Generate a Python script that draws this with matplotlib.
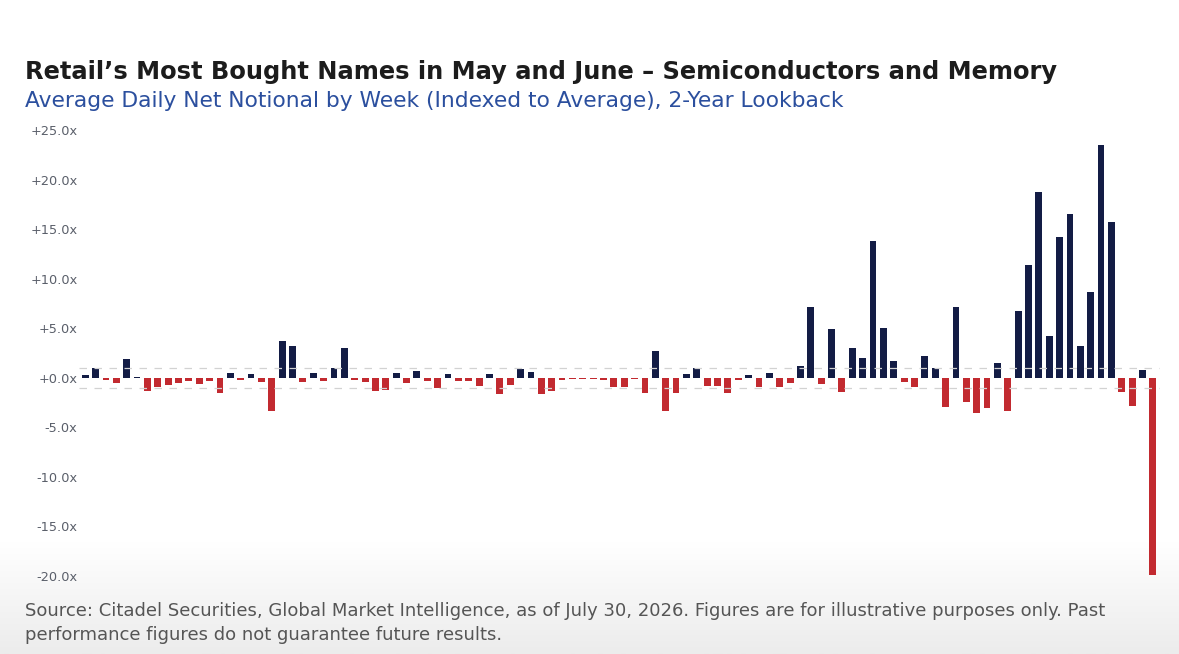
import matplotlib
matplotlib.use("Agg")
import matplotlib.pyplot as plt
from matplotlib.colors import LinearSegmentedColormap
import numpy as np

plt.rcParams['font.family'] = ['DejaVu Sans']

# weekly index values, 2-year lookback (104 weeks)
values = [
    0.3, 1.0, -0.2, -0.5, 1.9, 0.1, -1.3, -0.9, -0.7, -0.5,
    -0.3, -0.6, -0.3, -1.5, 0.5, -0.2, 0.35, -0.4, -3.4, 3.7,
    3.2, -0.45, 0.45, -0.3, 1.0, 3.0, -0.2, -0.4, -1.3, -1.2,
    0.5, -0.5, 0.7, -0.3, -1.0, 0.4, -0.3, -0.3, -0.8, 0.4,
    -1.6, -0.7, 0.9, 0.6, -1.6, -1.3, -0.2, -0.15, -0.1, -0.15,
    -0.2, -0.9, -0.9, -0.1, -1.5, 2.7, -3.4, -1.5, 0.4, 1.0,
    -0.8, -0.8, -1.5, -0.2, 0.3, -0.9, 0.5, -0.9, -0.5, 1.2,
    7.1, -0.6, 4.9, -1.4, 3.0, 2.0, 13.8, 5.0, 1.7, -0.4,
    -0.9, 2.2, 1.0, -2.9, 7.1, -2.4, -3.6, -3.1, 1.5, -3.4,
    6.7, 11.4, 18.7, 4.2, 14.2, 16.5, 3.2, 8.7, 23.5, 15.7,
    -1.4, -2.8, 0.8, -19.9,
]
yticks = [-20, -15, -10, -5, 0, 5, 10, 15, 20, 25]
ytick_labels = ["%+.1fx" % v for v in yticks]

title = "Retail\u2019s Most Bought Names in May and June \u2013 Semiconductors and Memory"
subtitle = "Average Daily Net Notional by Week (Indexed to Average), 2-Year Lookback"
source = ("Source: Citadel Securities, Global Market Intelligence, as of July 30, 2026. "
          "Figures are for illustrative purposes only. Past\n"
          "performance figures do not guarantee future results.")

navy = '#131c45'
red = '#c22a30'

fig = plt.figure(figsize=(11.79, 6.54), dpi=100)
fig.patch.set_facecolor('white')

# faint grey fade at the bottom of the slide
bg = fig.add_axes([0, 0, 1, 1], zorder=-10)
fade = np.clip((0.17 - np.linspace(1, 0, 300)) / 0.17, 0, 1)[:, None]
bg.imshow(fade, extent=[0, 1, 0, 1], aspect='auto',
          cmap=LinearSegmentedColormap.from_list('fade', ['#ffffff', '#ececec']))
bg.set_axis_off()

ax = fig.add_axes([0.067, 0.1193, 0.917, 0.6819])
x = np.arange(len(values))
colors = [navy if v >= 0 else red for v in values]
ax.bar(x, values, width=0.66, color=colors, zorder=2)

ax.axhline(1, color='#d2d2d2', lw=0.9, ls=(0, (6, 6)), zorder=3)
ax.axhline(-1, color='#d2d2d2', lw=0.9, ls=(0, (6, 6)), zorder=3)

ax.set_xlim(-0.6, len(values) - 0.3)
ax.set_ylim(-20, 25)
ax.set_yticks(yticks)
ax.set_yticklabels(ytick_labels, fontsize=9.3, color='#5a5f6a')
ax.set_xticks([])
ax.tick_params(axis='y', length=0, pad=1)
for s in ax.spines.values():
    s.set_visible(False)
ax.patch.set_alpha(0)

fig.text(0.021, 0.890, title, fontsize=17.4, fontweight='bold', color='#1c1c1c', va='center')
fig.text(0.021, 0.8456, subtitle, fontsize=15.7, color='#2b4f9e', va='center')
fig.text(0.021, 0.047, source, fontsize=13.0, color='#555555', va='center', linespacing=1.45)

fig.savefig('out.png', dpi=100)
